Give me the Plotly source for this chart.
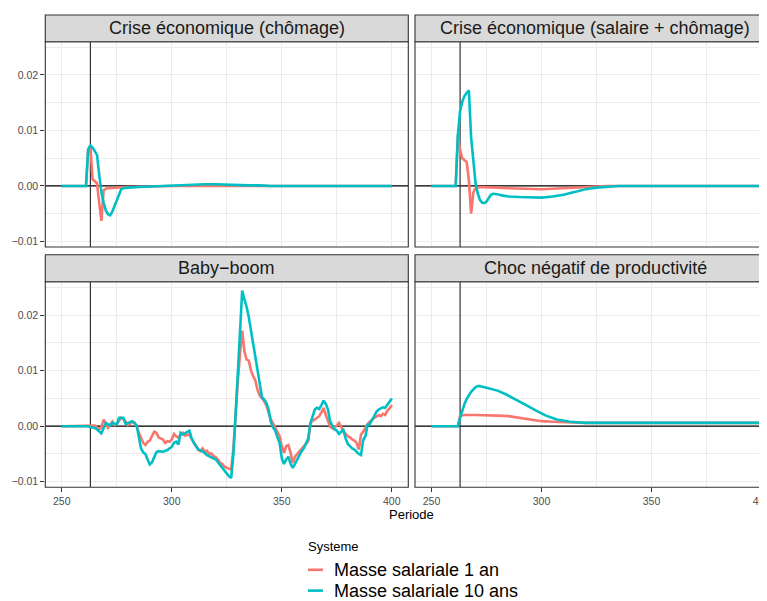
import plotly.graph_objects as go

# ---------------- DATA ----------------
PANEL_TITLES = ["Crise économique (chômage)", "Crise économique (salaire + chômage)",
                "Baby\u2212boom", "Choc négatif de productivité"]
SERIES_NAMES = ["Masse salariale 1 an", "Masse salariale 10 ans"]
LEGEND_TITLE = "Systeme"
X_TITLE = "Periode"
X_TICKS = [250, 300, 350, 400]
Y_TICKS = [-0.01, 0.0, 0.01, 0.02]
Y_TICK_LABELS = ["\u22120.01", "0.00", "0.01", "0.02"]
SHOCK_PERIOD = 263

# Panel 1 : Crise économique (chômage)
CHOM_T_1AN = [250, 261, 262, 263, 264, 265, 266, 267, 268, 269, 270, 271, 275, 280, 290, 300, 400]
CHOM_V_1AN = [0, 0, 0.0066, 0.0072, 0.0012, 0.0008, 0.0005, -0.0030, -0.0063, -0.0008, -0.0005,
              -0.0004, -0.0003, -0.0002, -0.0001, 0.0, 0.0]
CHOM_T_10ANS = [250, 261, 262, 263, 264, 265, 266, 267, 268, 269, 270, 271, 272, 273, 274, 275, 276,
                277, 278, 280, 285, 290, 295, 300, 305, 310, 315, 320, 325, 330, 335, 340, 345, 400]
CHOM_V_10ANS = [0, 0, 0.0066, 0.0073, 0.0069, 0.0062, 0.0056, 0.0020, -0.0011, -0.0030, -0.0044,
                -0.0051, -0.0053, -0.0046, -0.0036, -0.0025, -0.0014, -0.0006, -0.0004, -0.0003,
                -0.0002, -0.0001, 0.0, 0.0001, 0.0002, 0.0003, 0.0003, 0.0003, 0.0002, 0.0002,
                0.0001, 0.0001, 0.0, 0.0]

# Panel 2 : Crise économique (salaire + chômage)
SAL_T_1AN = [250, 261, 262, 263, 264, 265, 266, 267, 268, 269, 270, 271, 275, 280, 285, 290, 295,
             300, 305, 310, 315, 320, 325, 330, 400]
SAL_V_1AN = [0, 0, 0.0092, 0.0065, 0.0050, 0.0046, 0.0043, 0.0010, -0.0050, -0.0012, -0.0004,
             -0.0002, -0.0002, -0.0003, -0.0004, -0.0005, -0.0006, -0.0006, -0.0005, -0.0004,
             -0.0003, -0.0002, -0.0001, 0.0, 0.0]
SAL_T_10ANS = [250, 261, 262, 263, 264, 265, 266, 267, 268, 269, 270, 271, 272, 273, 274, 275, 276,
               277, 278, 279, 280, 282, 285, 290, 295, 300, 305, 310, 315, 320, 325, 330, 335, 400]
SAL_V_10ANS = [0, 0, 0.0092, 0.0135, 0.0152, 0.0162, 0.0168, 0.0172, 0.0088, 0.0040, 0.0006,
               -0.0013, -0.0025, -0.0030, -0.0031, -0.0028, -0.0022, -0.0016, -0.0014, -0.0014,
               -0.0015, -0.0017, -0.0019, -0.0020, -0.0021, -0.0021, -0.0019, -0.0016, -0.0011,
               -0.0006, -0.0003, -0.0001, 0.0, 0.0]

# Panel 3 : Baby-boom
BB_T_1AN = [250, 263, 265, 267, 268, 269, 270, 271, 272, 273, 274, 275, 277, 278, 279, 280, 281,
            282, 283, 284, 285, 286, 287, 288, 289, 290, 291, 292, 293, 294, 296, 297, 298, 299,
            300, 301, 302, 303, 304, 305, 306, 307, 308, 309, 310, 311, 312, 313, 314, 315, 316,
            317, 318, 319, 320, 321, 322, 323, 324, 325, 326, 327, 328, 329, 330, 331, 332, 333,
            334, 335, 336, 337, 338, 339, 340, 341, 342, 343, 344, 345, 346, 347, 348, 349, 350,
            351, 352, 353, 354, 355, 356, 357, 358, 359, 360, 361, 362, 363, 364, 365, 366, 367,
            368, 369, 370, 371, 372, 373, 374, 375, 376, 377, 378, 379, 380, 381, 382, 383, 384,
            385, 386, 387, 388, 389, 390, 391, 392, 393, 394, 395, 396, 397, 398, 399, 400]
BB_V_1AN = [0, 0, 0.0001, -0.0006, -0.0002, 0.0012, 0.0005, -0.0003, 0.0002, 0.0008, 0.0002,
            0.0004, 0.0015, 0.0013, 0.0008, 0.0002, 0.0004, 0.0008, 0.0007, 0.0, -0.0012, -0.0020,
            -0.0030, -0.0034, -0.0028, -0.0026, -0.0018, -0.0010, -0.0012, -0.0020, -0.0024,
            -0.0030, -0.0027, -0.0028, -0.0024, -0.0014, -0.0018, -0.0021, -0.0015, -0.0012,
            -0.0017, -0.0015, -0.0016, -0.0022, -0.0030, -0.0036, -0.0042, -0.0045, -0.0040,
            -0.0046, -0.0044, -0.0050, -0.0049, -0.0054, -0.0056, -0.0060, -0.0066, -0.0068,
            -0.0073, -0.0075, -0.0077, -0.0078, -0.0040, 0.0025, 0.0080, 0.0130, 0.0172, 0.0135,
            0.0120, 0.0118, 0.0100, 0.0090, 0.0082, 0.0065, 0.0055, 0.0050, 0.0045, 0.0037,
            0.0025, 0.0012, 0.0005, -0.0002, -0.0010, -0.0018, -0.0036, -0.0048, -0.0036,
            -0.0034, -0.0048, -0.0066, -0.0055, -0.0050, -0.0046, -0.0042, -0.0035, -0.0030,
            -0.0027, 0.0005, 0.0010, 0.0012, 0.0015, 0.0018, 0.0025, 0.0033, 0.0020, 0.0008,
            -0.0001, -0.0004, -0.0002, 0.0001, 0.0006, -0.0003, -0.0009, -0.0014, -0.0018,
            -0.0020, -0.0024, -0.0026, -0.0030, -0.0042, -0.0015, -0.0010, -0.0002, 0.0004,
            0.0008, 0.0012, 0.0015, 0.0017, 0.0020, 0.0018, 0.0022, 0.0020, 0.0028, 0.0032,
            0.0038]
BB_T_10ANS = [250, 262, 263, 265, 266, 268, 270, 271, 272, 273, 275, 276, 278, 279, 281, 282, 284,
              285, 286, 287, 288, 289, 290, 291, 292, 293, 294, 296, 298, 300, 301, 302, 303, 304,
              305, 306, 307, 308, 309, 310, 312, 314, 316, 318, 320, 322, 324, 326, 327, 328, 329,
              330, 331, 332, 333, 334, 335, 336, 337, 338, 339, 340, 341, 342, 343, 344, 345, 346,
              347, 348, 349, 350, 351, 352, 353, 354, 355, 356, 357, 358, 359, 360, 361, 362, 363,
              364, 365, 366, 367, 368, 369, 370, 371, 372, 373, 374, 375, 376, 377, 378, 379, 380,
              381, 382, 383, 384, 385, 386, 387, 388, 389, 390, 391, 392, 393, 394, 395, 396, 397,
              398, 399, 400]
BB_V_10ANS = [0, 0, -0.0002, -0.0003, -0.0006, -0.0013, 0.0006, 0.0003, 0.0001, 0.0006, 0.0003,
              0.0015, 0.0015, 0.0004, 0.0007, 0.0009, 0.0002, -0.0021, -0.0040, -0.0047, -0.0050,
              -0.0060, -0.0069, -0.0065, -0.0055, -0.0047, -0.0045, -0.0046, -0.0043, -0.0037,
              -0.0030, -0.0028, -0.0033, -0.0012, -0.0015, -0.0013, -0.0010, -0.0008, -0.0022,
              -0.0030, -0.0042, -0.0045, -0.0052, -0.0056, -0.0060, -0.0070, -0.0081, -0.0090,
              -0.0093, -0.0050, 0.0020, 0.0095, 0.0170, 0.0244, 0.0228, 0.0215, 0.0196, 0.0172,
              0.0150, 0.0125, 0.0098, 0.0070, 0.0052, 0.0048, 0.0042, 0.0030, 0.0008, -0.0002,
              -0.0008, -0.0020, -0.0030, -0.0058, -0.0068, -0.0060, -0.0055, -0.0068, -0.0075,
              -0.0068, -0.0060, -0.0052, -0.0045, -0.0040, -0.0032, -0.0022, 0.0005, 0.0020,
              0.0030, 0.0033, 0.0031, 0.0038, 0.0046, 0.0040, 0.0030, 0.0008, 0.0, -0.0006,
              -0.0008, -0.0014, -0.0010, -0.0007, -0.0022, -0.0032, -0.0036, -0.0040, -0.0042,
              -0.0046, -0.0050, -0.0052, -0.0025, -0.0018, 0.0002, 0.0004, 0.0010, 0.0018, 0.0026,
              0.0030, 0.0032, 0.0034, 0.0033, 0.0038, 0.0043, 0.0050]

# Panel 4 : Choc négatif de productivité
CHOC_T_1AN = [250, 262, 263, 265, 270, 275, 280, 285, 290, 295, 300, 305, 310, 315, 320, 330, 400]
CHOC_V_1AN = [0, 0, 0.0019, 0.0020, 0.0020, 0.0020, 0.0019, 0.0018, 0.0015, 0.0012, 0.0009,
              0.0008, 0.0007, 0.0007, 0.0006, 0.0006, 0.0006]
CHOC_T_10ANS = [250, 262, 263, 264, 265, 266, 267, 268, 269, 270, 271, 272, 275, 280, 284, 289,
                293, 298, 302, 307, 313, 320, 330, 400]
CHOC_V_10ANS = [0, 0, 0.0015, 0.0028, 0.0040, 0.0049, 0.0056, 0.0062, 0.0066, 0.0070, 0.0072,
                0.0072, 0.0069, 0.0064, 0.0057, 0.0047, 0.0038, 0.0027, 0.0019, 0.0012, 0.0008,
                0.0006, 0.0006, 0.0006]

RED = "#F8766D"
BLUE = "#00BFC4"

# ---------------- LAYOUT GEOMETRY (window pixels) ----------------
W, H = 767, 601
OFF = 8  # the page body margin shifts the figure by 8 px
FONT = "Liberation Sans, Arial, Helvetica, sans-serif"


def fx(x):
    return (x - OFF) / W


def fy(y):
    return 1 - (y - OFF) / H


COLS = [(45.3, 408.3), (415.0, 767.0 + OFF)]
ROWS = [(41.7, 247.0), (281.7, 487.3)]
STRIPS = [(15.0, 41.7), (254.7, 281.7)]
PX_PER_UNIT = 2.2
X0 = 242.5
YR = [-0.011, 0.026]

panel_data = [
    ((CHOM_T_1AN, CHOM_V_1AN), (CHOM_T_10ANS, CHOM_V_10ANS)),
    ((SAL_T_1AN, SAL_V_1AN), (SAL_T_10ANS, SAL_V_10ANS)),
    ((BB_T_1AN, BB_V_1AN), (BB_T_10ANS, BB_V_10ANS)),
    ((CHOC_T_1AN, CHOC_V_1AN), (CHOC_T_10ANS, CHOC_V_10ANS)),
]

fig = go.Figure()
shapes = []
annotations = []
layout_axes = {}

for i in range(4):
    r, c = divmod(i, 2)
    n = "" if i == 0 else str(i + 1)
    xa, ya = "x" + n, "y" + n
    xl, xr_px = COLS[c]
    yt, yb = ROWS[r]
    xrange = [X0, X0 + (xr_px - xl) / PX_PER_UNIT]

    layout_axes["xaxis" + n] = dict(
        domain=[fx(xl), min(1.0, fx(xr_px))], range=xrange, anchor=ya,
        tickvals=X_TICKS, ticktext=[str(v) for v in X_TICKS],
        showticklabels=(r == 1), ticks="outside" if r == 1 else "",
        ticklen=4, tickwidth=1, tickcolor="#333333",
        tickfont=dict(family=FONT, size=10.5, color="#4D4D4D"),
        showgrid=True, gridcolor="#EBEBEB", gridwidth=1,
        minor=dict(tickvals=[275, 325, 375], showgrid=True, gridcolor="#EBEBEB", gridwidth=0.5, ticks=""),
        zeroline=False, showline=False, fixedrange=True,
    )
    layout_axes["yaxis" + n] = dict(
        domain=[fy(yb), fy(yt)], range=YR, anchor=xa,
        tickvals=Y_TICKS, ticktext=Y_TICK_LABELS,
        showticklabels=(c == 0), ticks="outside" if c == 0 else "",
        ticklen=4, tickwidth=1, tickcolor="#333333",
        tickfont=dict(family=FONT, size=10.5, color="#4D4D4D"),
        showgrid=True, gridcolor="#EBEBEB", gridwidth=1,
        minor=dict(tickvals=[-0.005, 0.005, 0.015, 0.025], showgrid=True, gridcolor="#EBEBEB",
                   gridwidth=0.5, ticks=""),
        zeroline=False, showline=False, fixedrange=True,
    )

    # reference lines (drawn as traces under the series)
    fig.add_trace(go.Scatter(x=xrange, y=[0, 0], mode="lines", line=dict(color="#000000", width=1.2),
                             showlegend=False, xaxis=xa, yaxis=ya, hoverinfo="skip"))
    fig.add_trace(go.Scatter(x=[SHOCK_PERIOD, SHOCK_PERIOD], y=YR, mode="lines",
                             line=dict(color="#333333", width=1.2),
                             showlegend=False, xaxis=xa, yaxis=ya, hoverinfo="skip"))

    (t1, v1), (t10, v10) = panel_data[i]
    fig.add_trace(go.Scatter(x=t1, y=v1, mode="lines", name=SERIES_NAMES[0],
                             line=dict(color=RED, width=2.6), showlegend=False,
                             xaxis=xa, yaxis=ya, hoverinfo="skip"))
    fig.add_trace(go.Scatter(x=t10, y=v10, mode="lines", name=SERIES_NAMES[1],
                             line=dict(color=BLUE, width=2.6), showlegend=False,
                             xaxis=xa, yaxis=ya, hoverinfo="skip"))

    # panel border (extends past the page on the right column, as in the reference)
    x1_paper = fx(xr_px) if c == 0 else fx(xr_px + 12)
    shapes.append(dict(type="rect", xref="paper", yref="paper",
                       x0=fx(xl), x1=x1_paper, y0=fy(yb), y1=fy(yt),
                       line=dict(color="#333333", width=1.1), fillcolor="rgba(0,0,0,0)", layer="above"))
    # strip
    st, sb = STRIPS[r]
    shapes.append(dict(type="rect", xref="paper", yref="paper",
                       x0=fx(xl), x1=x1_paper, y0=fy(sb), y1=fy(st),
                       line=dict(color="#333333", width=1.1), fillcolor="#D9D9D9", layer="above"))
    strip_center = (xl + xr_px) / 2
    annotations.append(dict(text=PANEL_TITLES[i], xref="paper", yref="paper",
                            x=fx(strip_center), y=fy((st + sb) / 2), xanchor="center", yanchor="middle",
                            showarrow=False, font=dict(family=FONT, size=18, color="#1A1A1A")))

# axis title
annotations.append(dict(text=X_TITLE, xref="paper", yref="paper", x=fx(411.3), y=fy(514.0),
                        xanchor="center", yanchor="middle", showarrow=False,
                        font=dict(family=FONT, size=13, color="#000000")))

# legend (drawn manually to match ggplot's layout)
annotations.append(dict(text=LEGEND_TITLE, xref="paper", yref="paper", x=fx(305.5), y=fy(546.5),
                        xanchor="left", yanchor="middle", showarrow=False,
                        font=dict(family=FONT, size=13, color="#000000")))
for k, (name, col) in enumerate(zip(SERIES_NAMES, [RED, BLUE])):
    yc = 569.8 + k * 20.8
    shapes.append(dict(type="line", xref="paper", yref="paper", x0=fx(308), x1=fx(323),
                       y0=fy(yc), y1=fy(yc), line=dict(color=col, width=2.6)))
    annotations.append(dict(text=name, xref="paper", yref="paper", x=fx(331.5), y=fy(yc + 0.5),
                            xanchor="left", yanchor="middle", showarrow=False,
                            font=dict(family=FONT, size=18, color="#000000")))

fig.update_layout(
    width=W, height=H,
    margin=dict(l=0, r=0, t=0, b=0, pad=0),
    paper_bgcolor="white", plot_bgcolor="white",
    showlegend=False,
    shapes=shapes, annotations=annotations,
    font=dict(family=FONT),
    **layout_axes,
)

fig.write_html("out.html")
